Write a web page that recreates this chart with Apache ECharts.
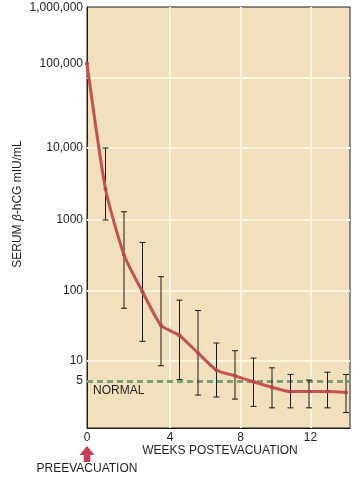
<!DOCTYPE html>
<html>
<head>
<meta charset="utf-8">
<style>
html,body{margin:0;padding:0;background:#fff;}
#chart{width:356px;height:481px;}
</style>
<script src="https://cdn.jsdelivr.net/npm/echarts@6/dist/echarts.min.js"></script>
</head>
<body>
<div id="chart"></div>
<script>
// ---- data ----
const weeks = [0, 1, 2, 3, 4, 5, 6, 7, 8, 9, 10, 11, 12, 13, 14];
const meanValues  = [100000, 2700, 320, 96, 32, 23, 13, 7.3, 6.0, 4.9, 4.05, 3.5, 3.5, 3.5, 3.4];
const upperValues = [null, 10000, 1300, 480, 157, 73, 52, 18, 14, 11, 7.9, 6.3, 5.2, 6.8, 6.3];
const lowerValues = [null, 1000, 56, 19, 8.5, 5.3, 3.1, 2.9, 2.7, 2.1, 2.0, 2.0, 2.0, 2.0, 1.7];
const normalValue = 5;
const yTickValues = [1000000, 100000, 10000, 1000, 100, 10, 5];
const yTickLabels = ['1,000,000', '100,000', '10,000', '1000', '100', '10', '5'];
const xTickLabels = ['0', '4', '8', '12'];

// ---- the printed (piecewise logarithmic) value scale of the original figure ----
const decadePos  = [0, 67, 137.5, 208, 280, 364.5, 420];
function scaleY(v) {
  const l = Math.log10(v);
  const i = Math.min(5, Math.max(0, Math.floor(l)));
  return decadePos[i] + (l - i) * (decadePos[i + 1] - decadePos[i]);
}
// printed week ticks sit slightly off the plotted weeks in the original
const xTickPos = [0, 4.486, 8.30, 12.08];
const hGridPos = [67, 137.5, 208, 280, 350];

const lineData = weeks.map((w, i) => [w, scaleY(meanValues[i])]);
const barData = weeks.map((w, i) => upperValues[i] == null ? null :
  [w, scaleY(lowerValues[i]), scaleY(upperValues[i])]).filter(d => d);

const chart = echarts.init(document.getElementById('chart'), null, {renderer: 'canvas'});
const FONT = 'Liberation Sans, Arial, sans-serif';
const TXT = '#231f20';

const option = {
  animation: false,
  grid: {
    left: 87, top: 7, width: 263, height: 421,
    show: true, backgroundColor: '#f2e0bc', borderColor: '#231f20', borderWidth: 1
  },
  xAxis: {
    type: 'value', min: 0, max: 263 / 18.5,
    axisLine: {show: true, lineStyle: {color: '#231f20', width: 1}},
    axisTick: {show: false},
    splitLine: {show: false},
    axisLabel: {
      customValues: xTickPos, margin: 4,
      fontFamily: FONT, fontSize: 12, color: TXT,
      formatter: (v) => {
        let best = 0;
        xTickPos.forEach((p, i) => { if (Math.abs(p - v) < Math.abs(xTickPos[best] - v)) best = i; });
        return xTickLabels[best];
      }
    }
  },
  yAxis: {
    type: 'value', min: 0, max: 421,
    axisLine: {show: true, lineStyle: {color: '#231f20', width: 1}},
    axisTick: {show: false},
    splitLine: {show: false},
    axisLabel: {
      customValues: yTickValues.map(scaleY), margin: 4,
      fontFamily: FONT, fontSize: 12, color: TXT,
      formatter: (v) => {
        let best = 0;
        yTickValues.forEach((tv, i) => { if (Math.abs(scaleY(tv) - v) < Math.abs(scaleY(yTickValues[best]) - v)) best = i; });
        return yTickLabels[best];
      }
    }
  },
  series: [
    {
      type: 'line', data: [], silent: true,
      markLine: {
        silent: true, symbol: ['none', 'none'], z: 1, animation: false,
        label: {show: false},
        lineStyle: {color: '#fcf4e2', width: 2, type: 'solid'},
        data: hGridPos.map(p => ({yAxis: p})).concat(xTickPos.slice(1).map(p => ({xAxis: p})))
      }
    },
    {
      type: 'line', data: [], silent: true,
      markLine: {
        silent: true, symbol: ['none', 'none'], z: 2, animation: false,
        label: {show: false},
        lineStyle: {color: '#7d9f78', width: 3, type: [6, 4]},
        data: [{yAxis: scaleY(normalValue)}]
      }
    },
    {
      type: 'custom', z: 3, silent: true,
      data: barData,
      renderItem: (params, api) => {
        const x = api.value(0);
        const lo = api.coord([x, api.value(1)]);
        const hi = api.coord([x, api.value(2)]);
        const cap = 3;
        const st = {stroke: '#1a1a1a', lineWidth: 1};
        return {
          type: 'group',
          children: [
            {type: 'line', shape: {x1: lo[0], y1: lo[1], x2: hi[0], y2: hi[1]}, style: st},
            {type: 'line', shape: {x1: hi[0] - cap, y1: hi[1], x2: hi[0] + cap, y2: hi[1]}, style: st},
            {type: 'line', shape: {x1: lo[0] - cap, y1: lo[1], x2: lo[0] + cap, y2: lo[1]}, style: st}
          ]
        };
      }
    },
    {
      type: 'line', z: 4, silent: true,
      data: lineData, smooth: 0.2,
      symbol: 'circle', symbolSize: 4,
      itemStyle: {color: '#b5474b'},
      lineStyle: {color: '#c4524f', width: 3}
    }
  ],
  graphic: [
    {type: 'text', left: 93, top: 385, style: {text: 'NORMAL', fontFamily: FONT, fontSize: 12, fill: TXT}, z: 10},
    {type: 'text', x: 220, y: 451, style: {text: 'WEEKS POSTEVACUATION', fontFamily: FONT, fontSize: 12, fill: TXT, align: 'center', verticalAlign: 'middle'}, z: 10},
    {type: 'text', x: 87, y: 469, style: {text: 'PREEVACUATION', fontFamily: FONT, fontSize: 12, fill: TXT, align: 'center', verticalAlign: 'middle'}, z: 10},
    {type: 'polygon', z: 10, shape: {points: [[87, 446], [94.5, 455], [90.3, 455], [90.3, 462], [83.7, 462], [83.7, 455], [79.5, 455]]}, style: {fill: '#c73b5c'}},
    {type: 'text', x: 18, y: 204, rotation: Math.PI / 2, z: 10,
      style: {
        text: '{n|SERUM }{b|β}{n|-hCG mIU/mL}', align: 'center', verticalAlign: 'middle',
        rich: {
          n: {fontFamily: FONT, fontSize: 12, fill: TXT},
          b: {fontFamily: FONT, fontSize: 12, fontStyle: 'italic', fill: TXT}
        }
      }
    }
  ]
};
chart.setOption(option);
</script>
</body>
</html>
